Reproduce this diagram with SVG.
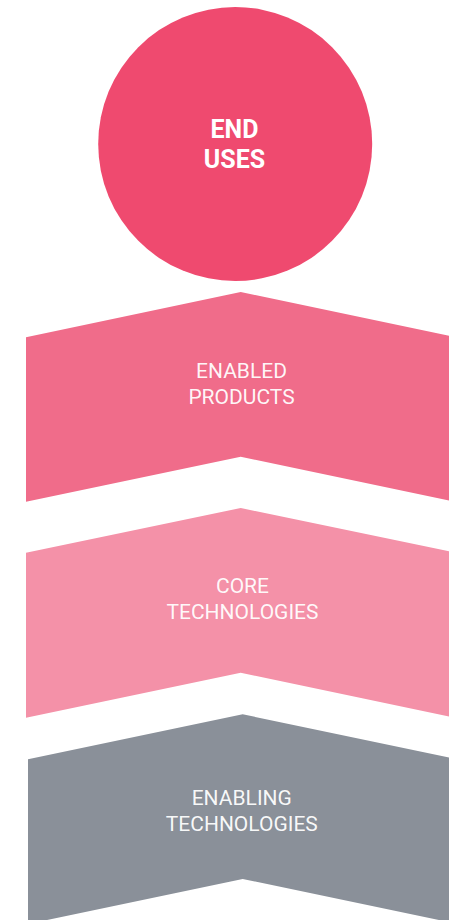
<svg xmlns="http://www.w3.org/2000/svg" width="449" height="920" viewBox="0 0 449 920">
<style>
.lbl{font-family:Roboto,"Liberation Sans",sans-serif;font-size:21px;fill:#ffffff;fill-opacity:0.95;text-anchor:middle}
.big{font-family:Roboto,"Liberation Sans",sans-serif;font-size:25px;font-weight:bold;fill:#ffffff;text-anchor:middle}
</style>
<rect width="449" height="920" fill="#ffffff"/>
<g id="connectors"></g>
<g id="end-uses">
<circle cx="235.2" cy="144" r="137" fill="#EF4A6F"/>
<text class="big" x="234.5" y="137.5">END</text>
<text class="big" x="234.5" y="167.5">USES</text>
</g>
<g id="enabled-products">
<polygon points="26,337.3 240.7,292 456,337.3 456,502 240.7,456.7 26,501.7" fill="#F06C8A"/>
<text class="lbl" x="241.5" y="377.7">ENABLED</text>
<text class="lbl" x="241.5" y="404">PRODUCTS</text>
</g>
<g id="core-technologies">
<polygon points="26,552.7 240.7,508 456,552.7 456,718 240.7,672.7 26,717.7" fill="#F491A8"/>
<text class="lbl" x="242.5" y="592.7">CORE</text>
<text class="lbl" x="242.5" y="619">TECHNOLOGIES</text>
</g>
<g id="enabling-technologies">
<polygon points="28,759.3 242.7,714.3 458,759.3 458,924 242.7,879 28,924" fill="#8A9099"/>
<text class="lbl" x="241.8" y="805.3">ENABLING</text>
<text class="lbl" x="241.8" y="831">TECHNOLOGIES</text>
</g>
</svg>
